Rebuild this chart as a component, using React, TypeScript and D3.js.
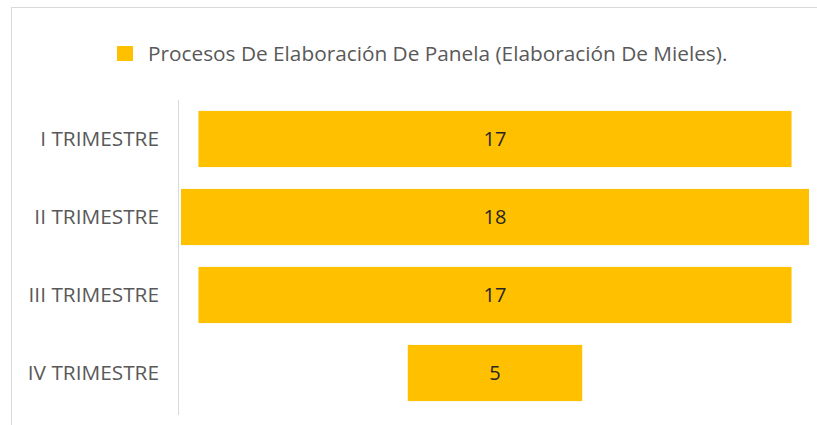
import React from "react";
import * as d3 from "d3";

const categories = ["I TRIMESTRE", "II TRIMESTRE", "III TRIMESTRE", "IV TRIMESTRE"];
const values = [17, 18, 17, 5];
const seriesName = "Procesos De Elaboración De Panela (Elaboración De Mieles).";

const W = 817;
const H = 425;
const FONT = "'Open Sans', 'Noto Sans', sans-serif";

export default function App() {
  const center = 495;
  const maxV = d3.max(values) as number;
  const half = d3.scaleLinear().domain([0, maxV]).range([0, 314]);
  const y = d3
    .scaleBand<string>()
    .domain(categories)
    .range([100, 412])
    .paddingInner(0.28)
    .paddingOuter(0.14);

  return (
    <svg
      width={W}
      height={H}
      style={{ position: "absolute", left: 0, top: 0, background: "#fff" }}
      fontFamily={FONT}
    >
      <rect x={11.5} y={7.5} width={900} height={600} fill="#fff" stroke="#d9d9d9" strokeWidth={1} />
      {/* legend */}
      <rect x={117} y={46} width={16} height={15} fill="#FFC000" />
      <text x={148} y={61} fontSize={20.8} fill="#595959">
        {seriesName}
      </text>
      {/* axis line */}
      <line x1={178.5} x2={178.5} y1={100} y2={415} stroke="#d9d9d9" strokeWidth={1} />
      {categories.map((c, i) => {
        const w = half(values[i]);
        const yy = y(c) as number;
        const bh = y.bandwidth();
        return (
          <g key={c}>
            <rect x={center - w} y={yy} width={2 * w} height={bh} fill="#FFC000" />
            <text
              x={center}
              y={yy + bh / 2}
              dy="0.35em"
              textAnchor="middle"
              fontSize={20}
              fill="#262626"
            >
              {values[i]}
            </text>
            <text
              x={159}
              y={yy + bh / 2}
              dy="0.35em"
              textAnchor="end"
              fontSize={20.8}
              fill="#595959"
            >
              {c}
            </text>
          </g>
        );
      })}
    </svg>
  );
}
